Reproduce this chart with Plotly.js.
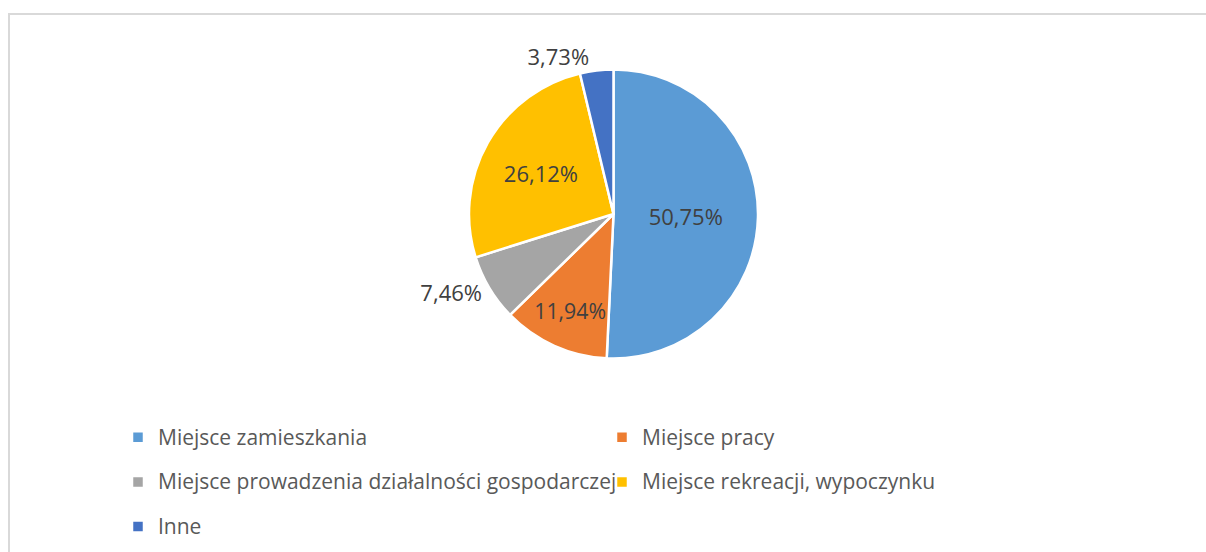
<!DOCTYPE html>
<html>
<head>
<meta charset="utf-8">
<script src="https://cdn.plot.ly/plotly-3.0.1.min.js"></script>
<style>
html,body{margin:0;padding:0;background:#fff;}
#wrap{position:relative;width:1206px;height:552px;overflow:hidden;}
#chart{position:absolute;left:0;top:0;width:1206px;height:552px;}
#frame{position:absolute;left:8px;top:13px;width:1300px;height:700px;border-top:2px solid #d9d9d9;border-left:2px solid #d9d9d9;pointer-events:none;}
</style>
</head>
<body>
<div id="wrap"><div id="chart"></div><div id="frame"></div></div>
<script>
const categories = ["Miejsce zamieszkania", "Miejsce pracy", "Miejsce prowadzenia działalności gospodarczej", "Miejsce rekreacji, wypoczynku", "Inne"];
const shares = [50.75, 11.94, 7.46, 26.12, 3.73];
const colors = ["#5B9BD5", "#ED7D31", "#A5A5A5", "#FFC000", "#4472C4"];
const textPositions = ["inside", "inside", "outside", "inside", "outside"];

const FONT = "'Open Sans', 'Noto Sans', sans-serif";
const W = 1206, H = 552;
const cx = 613.5, cy = 214, r = 144.5;

const trace = {
  type: "pie",
  labels: categories.map(c => '<span style="font-size:21px;baseline-shift:5px">' + c + '</span>'),
  values: shares,
  sort: false,
  direction: "clockwise",
  rotation: 0,
  marker: {colors: colors, line: {color: "#ffffff", width: 2.5}},
  textinfo: "percent",
  texttemplate: "%{percent:.2%}",
  textposition: textPositions,
  insidetextorientation: "horizontal",
  textfont: {family: FONT, size: 22, color: "#404040"},
  insidetextfont: {family: FONT, size: 22, color: "#404040"},
  outsidetextfont: {family: FONT, size: 22, color: "#404040"},
  hoverinfo: "label+percent",
  domain: {x: [(cx - r) / W, (cx + r) / W], y: [1 - (cy + r) / H, 1 - (cy - r) / H]}
};

const layout = {
  width: W, height: H,
  margin: {l: 0, r: 0, t: 0, b: 0, autoexpand: false},
  paper_bgcolor: "#ffffff",
  separators: ", ",
  showlegend: true,
  legend: {
    orientation: "h",
    x: 118 / W, xanchor: "left",
    y: 1 - 410 / H, yanchor: "top",
    entrywidth: 439, entrywidthmode: "pixels",
    font: {family: FONT, size: 32, color: "#595959"},
    traceorder: "normal",
    bgcolor: "rgba(0,0,0,0)"
  },
  font: {family: FONT}
};

Plotly.newPlot("chart", [trace], layout, {displayModeBar: false, staticPlot: true});
</script>
</body>
</html>
